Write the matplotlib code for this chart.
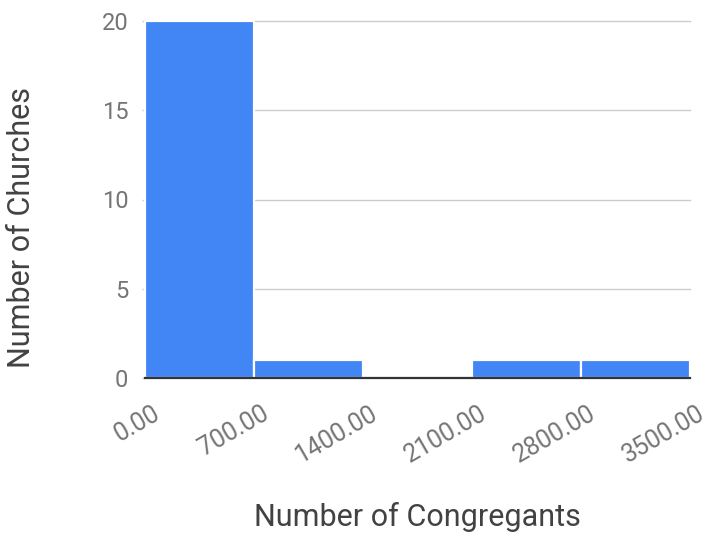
import matplotlib
matplotlib.use("Agg")
import matplotlib.pyplot as plt
from matplotlib.transforms import offset_copy

plt.rcParams['font.family'] = ['Roboto', 'DejaVu Sans']

# Histogram bins of congregation size and church counts per bin
bin_edges = [0, 700, 1400, 2100, 2800, 3500]
church_counts = [20, 1, 0, 1, 1]
x_tick_labels = ["0.00", "700.00", "1400.00", "2100.00", "2800.00", "3500.00"]
y_ticks = [0, 5, 10, 15, 20]

W, H, DPI = 712, 538, 100
fig = plt.figure(figsize=(W / DPI, H / DPI), dpi=DPI)
ax = fig.add_axes([145 / W, 160 / H, (690 - 145) / W, (378 - 21) / H])

bar_color = "#4285F4"
lefts = bin_edges[:-1]
widths = [b - a for a, b in zip(bin_edges[:-1], bin_edges[1:])]
ax.bar(lefts, church_counts, width=widths, align="edge", color=bar_color,
       edgecolor="white", linewidth=1.6, zorder=3, clip_on=False)

ax.set_xlim(bin_edges[0], bin_edges[-1])
ax.set_ylim(0, 20)

# horizontal gridlines
for yv in y_ticks[1:]:
    ax.axhline(yv, color="#cccccc", linewidth=1.0, zorder=1, clip_on=False)
ax.axhline(0, color="#333333", linewidth=1.6, zorder=4, clip_on=False)

for s in ax.spines.values():
    s.set_visible(False)

ax.set_yticks(y_ticks)
ax.set_yticklabels([str(v) for v in y_ticks])
ax.tick_params(axis="y", length=2, width=1, color="#cccccc", pad=10,
               labelsize=17, labelcolor="#757575")

ax.set_xticks(bin_edges)
ax.set_xticklabels([])
ax.tick_params(axis="x", length=0)
for xv, lab in zip(bin_edges, x_tick_labels):
    tr = offset_copy(ax.get_xaxis_transform(), fig=fig, x=13 * 72 / DPI,
                     y=-34 * 72 / DPI, units="points")
    ax.text(xv, 0, lab, transform=tr, rotation=30, rotation_mode="anchor",
            ha="right", va="center", fontsize=18, color="#757575")

fig.text(417 / W, 1 - 517 / H, "Number of Congregants", ha="center",
         va="center", fontsize=22, color="#424242")
fig.text(22 / W, 1 - 228 / H, "Number of Churches", ha="center",
         va="center", rotation=90, fontsize=22, color="#424242")

fig.savefig("out.png", dpi=DPI, facecolor="white")
